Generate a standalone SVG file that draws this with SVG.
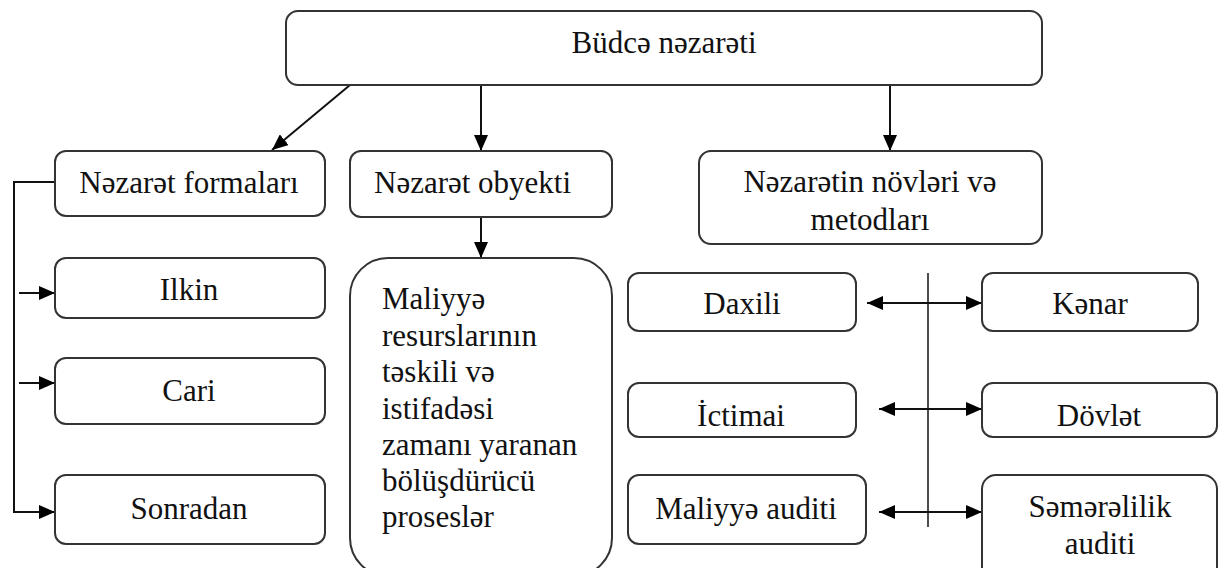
<svg xmlns="http://www.w3.org/2000/svg" width="1224" height="568" viewBox="0 0 1224 568">
<defs>
<marker id="ah" viewBox="0 0 16 14" refX="16" refY="7" markerWidth="16" markerHeight="14" markerUnits="userSpaceOnUse" orient="auto-start-reverse">
<path d="M0,0 L16,7 L0,14 Z" fill="#000"/>
</marker>
<style>
.box{fill:#fff;stroke:#333;stroke-width:2}
.t{font-family:'Liberation Serif','Tinos','Times New Roman','DejaVu Serif',serif;font-size:31px;fill:#111}
.c{text-anchor:middle}
.ln{fill:none;stroke:#111;stroke-width:2}
</style>
</defs>
<rect width="1224" height="568" fill="#fff"/>
<g id="connectors">
<line class="ln" x1="350" y1="85" x2="272" y2="150" marker-end="url(#ah)"/>
<line class="ln" x1="481" y1="85" x2="481" y2="151" marker-end="url(#ah)"/>
<line class="ln" x1="890" y1="85" x2="890" y2="151" marker-end="url(#ah)"/>
<line class="ln" x1="481" y1="217" x2="481" y2="258" marker-end="url(#ah)"/>
<path class="ln" d="M55,182 H14 V512 H55" marker-end="url(#ah)"/>
<line class="ln" x1="19" y1="293" x2="55" y2="293" marker-end="url(#ah)"/>
<line class="ln" x1="19" y1="383" x2="55" y2="383" marker-end="url(#ah)"/>
<line class="ln" x1="928" y1="273" x2="928" y2="527" style="stroke-width:1.5"/>
<line class="ln" x1="867" y1="303" x2="982" y2="303" marker-start="url(#ah)" marker-end="url(#ah)"/>
<line class="ln" x1="879" y1="409" x2="982" y2="409" marker-start="url(#ah)" marker-end="url(#ah)"/>
<line class="ln" x1="879" y1="512" x2="982" y2="512" marker-start="url(#ah)" marker-end="url(#ah)"/>
</g>
<g id="budce">
<rect class="box" x="286" y="11" width="756" height="74" rx="12"/>
<text class="t c" x="664" y="53">Büdcə nəzarəti</text>
</g>
<g id="formalar">
<rect class="box" x="55" y="151" width="270" height="65" rx="11"/>
<text class="t c" x="189" y="193">Nəzarət formaları</text>
</g>
<g id="obyekt">
<rect class="box" x="350" y="151" width="262" height="66" rx="11"/>
<text class="t" x="374" y="193">Nəzarət obyekti</text>
</g>
<g id="novler">
<rect class="box" x="699" y="151" width="343" height="93" rx="12"/>
<text class="t c" x="870" y="192">Nəzarətin növləri və</text>
<text class="t c" x="870" y="230">metodları</text>
</g>
<g id="ilkin">
<rect class="box" x="55" y="258" width="270" height="60" rx="11"/>
<text class="t c" x="189" y="300">Ilkin</text>
</g>
<g id="cari">
<rect class="box" x="55" y="358" width="270" height="66" rx="11"/>
<text class="t c" x="189" y="401">Cari</text>
</g>
<g id="sonradan">
<rect class="box" x="55" y="475" width="270" height="69" rx="11"/>
<text class="t c" x="189" y="519">Sonradan</text>
</g>
<g id="maliyye">
<rect class="box" x="350" y="258" width="262" height="318" rx="38"/>
<text class="t" x="382" y="309">Maliyyə</text>
<text class="t" x="382" y="346">resurslarının</text>
<text class="t" x="382" y="382">təskili və</text>
<text class="t" x="382" y="419">istifadəsi</text>
<text class="t" x="382" y="455">zamanı yaranan</text>
<text class="t" x="382" y="491">bölüşdürücü</text>
<text class="t" x="382" y="527">proseslər</text>
</g>
<g id="daxili">
<rect class="box" x="628" y="273" width="228" height="58" rx="11"/>
<text class="t c" x="742" y="314">Daxili</text>
</g>
<g id="kenar">
<rect class="box" x="982" y="273" width="216" height="58" rx="11"/>
<text class="t c" x="1090" y="314">Kənar</text>
</g>
<g id="ictimai">
<rect class="box" x="628" y="383" width="228" height="54" rx="11"/>
<text class="t c" x="741" y="426">İctimai</text>
</g>
<g id="dovlet">
<rect class="box" x="982" y="383" width="235" height="54" rx="11"/>
<text class="t c" x="1099" y="426">Dövlət</text>
</g>
<g id="maliyye-auditi">
<rect class="box" x="628" y="475" width="238" height="69" rx="11"/>
<text class="t c" x="746" y="519">Maliyyə auditi</text>
</g>
<g id="semerelilik">
<rect class="box" x="982" y="475" width="235" height="110" rx="14"/>
<text class="t c" x="1100" y="517">Səmərəlilik</text>
<text class="t c" x="1100" y="554">auditi</text>
</g>
</svg>
